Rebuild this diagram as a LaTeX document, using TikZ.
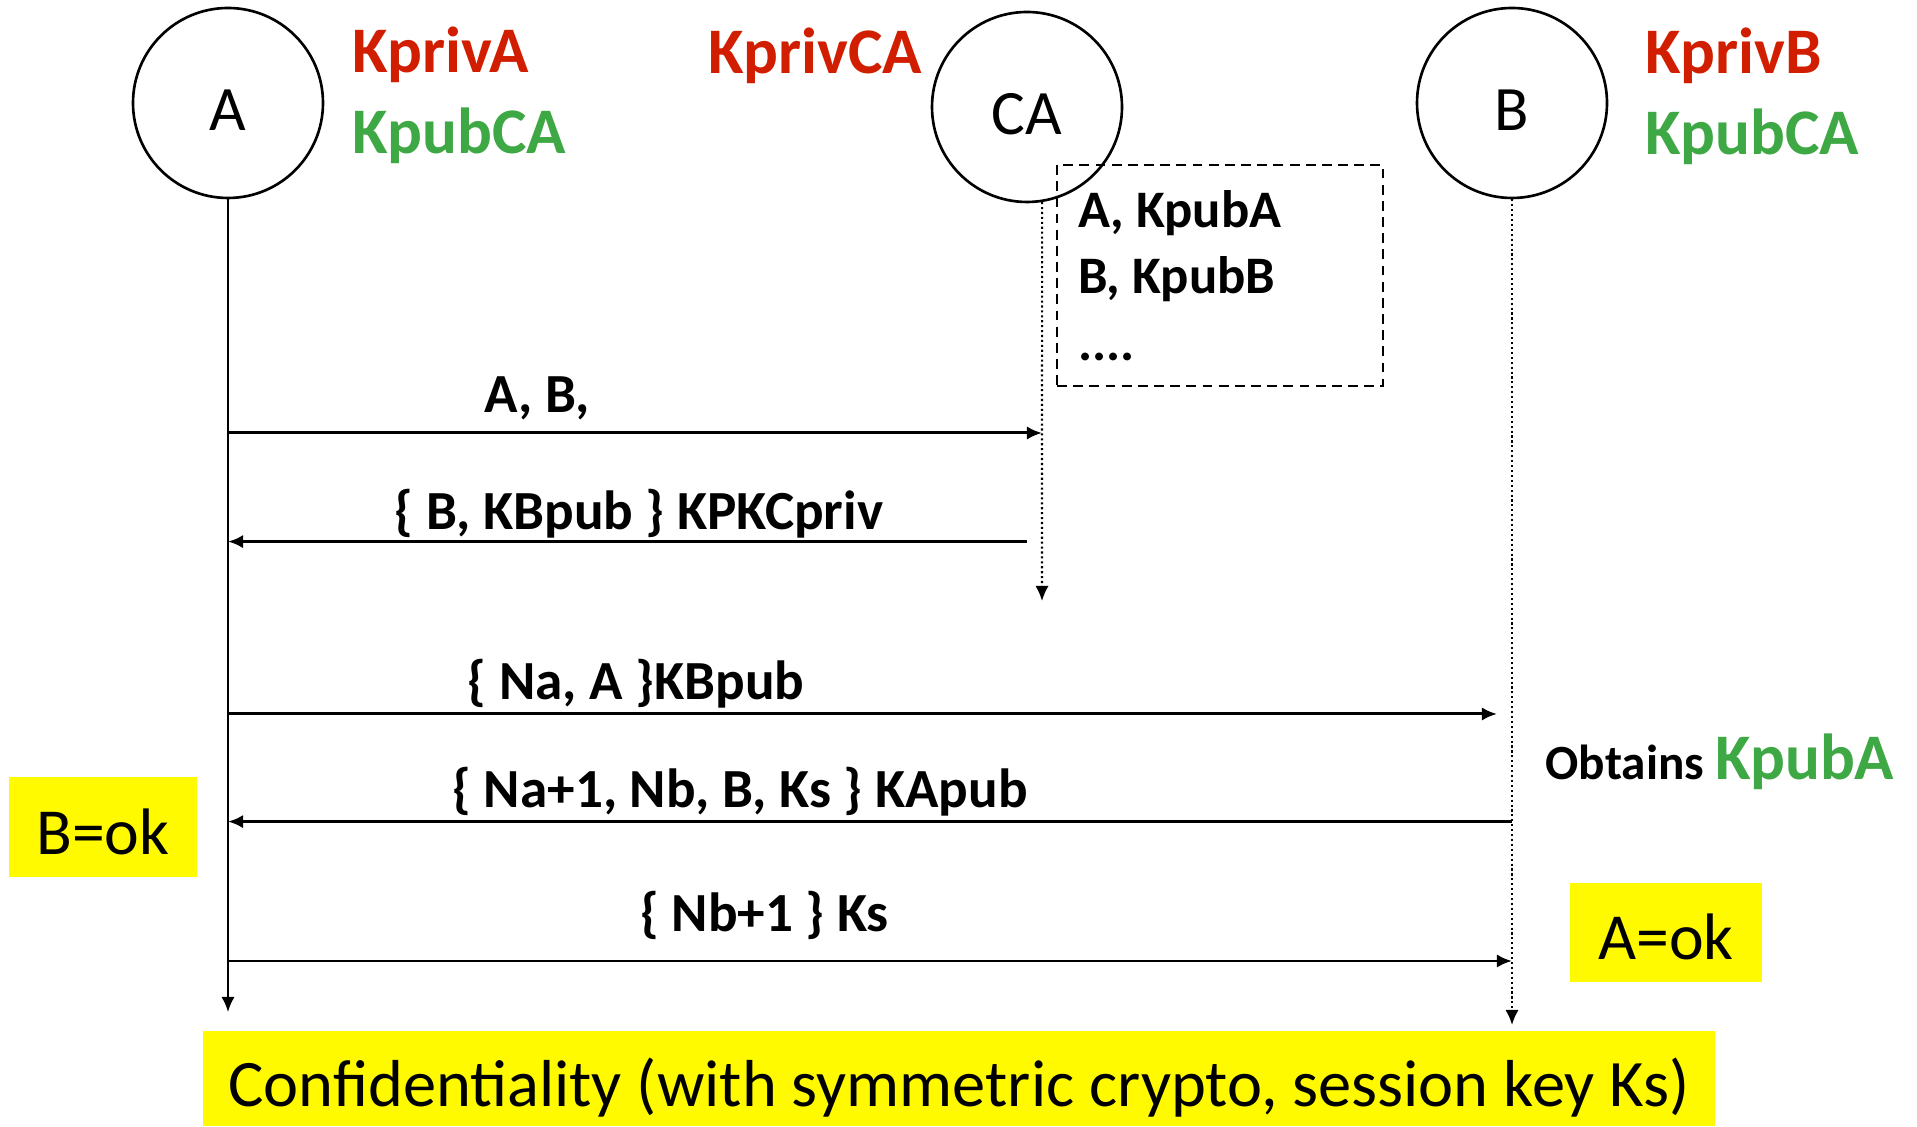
\documentclass[tikz,border=0pt]{standalone}
\usepackage{fontspec}
\setmainfont{Carlito}
\usetikzlibrary{positioning,arrows.meta}
\definecolor{kred}{RGB}{210,30,0}
\definecolor{kgreen}{RGB}{62,168,68}
\definecolor{okyellow}{RGB}{255,250,0}

\begin{document}
\begin{tikzpicture}[>={Latex[length=4.3pt,width=3.8pt]}]
  \useasboundingbox (0,0) rectangle (19.17,-11.27);
  \begin{scope}[node distance=0.81cm,
      actor/.style={circle, draw, line width=0.75pt, minimum size=1.9cm, inner sep=0pt, text height=0.56cm, text depth=0pt, font=\fontsize{18}{22}\selectfont},
      keyred/.style={anchor=base west, inner sep=0pt, text=kred, font=\fontsize{18.5}{22}\selectfont\bfseries},
      keygreen/.style={keyred, text=kgreen},
      dbox/.style={draw, dash pattern=on 2.8pt off 1.8pt, line width=0.75pt, minimum width=3.26cm, minimum height=2.21cm, text width=2.84cm, align=flush left, font=\fontsize{15}{19}\selectfont\bfseries},
      msglabel/.style={anchor=base, inner sep=0pt, font=\fontsize{15.7}{19}\selectfont\bfseries},
      msg/.style={->, line width=0.85pt},
      life/.style={->, line width=0.6pt},
      lifedot/.style={->, line width=0.6pt, dash pattern=on 0.6pt off 0.8pt},
      okbox/.style={fill=okyellow, inner sep=0pt, text height=0.55cm, text depth=0pt, font=\fontsize{18.7}{22}\selectfont}]
    % actors
    \node [actor] (A)  at (2.28,-1.03)  {A};
    \node [actor] (CA) at (10.27,-1.07) {CA};
    \node [actor] (B)  at (15.12,-1.03) {B};
    % keys
    \node [keyred] (kprivA) at (3.52,-0.73) {KprivA};
    \node [keygreen] (kpubA) [below=of kprivA.base west, anchor=base west] {KpubCA};
    \node [keyred] (kprivCA) at (7.08,-0.74) {KprivCA};
    \node [keyred] (kprivB) at (16.45,-0.74) {KprivB};
    \node [keygreen] (kpubB) [below=of kprivB.base west, anchor=base west] {KpubCA};
    \node [dbox] (ktable) at (12.2,-2.755) {A, KpubA\\B, KpubB\\....};
    % lifelines
    \coordinate (Aend) at (2.28,-10.12);
    \coordinate (CAtop) at (CA.-81);
    \coordinate (CAend) at (10.42,-6.01);
    \coordinate (Bend) at (15.12,-10.25);
    \draw [life] (A) -- (Aend);
    \draw [lifedot] (CAtop) -- (CAend);
    \draw [lifedot] (B) -- (Bend);
    % messages
    \coordinate (t1) at (0,-4.33);
    \coordinate (t2) at (0,-5.416);
    \coordinate (t3) at (0,-7.14);
    \coordinate (t4) at (0,-8.216);
    \coordinate (t5) at (0,-9.61);
    \draw [msg] (A |- t1) -- (CAtop |- t1);
    \draw [msg] (CA |- t2) -- (A |- t2);
    \draw [msg, shorten >=0.15cm] (A |- t3) -- (B |- t3);
    \draw [msg] (B |- t4) -- (A |- t4);
    \draw [msg] (A |- t5) -- (B |- t5);
    \node [msglabel] (l1) at (5.37,-4.13)  {A, B,};
    \node [msglabel] (l2) at (6.39,-5.30)  {\{ B, KBpub \} KPKCpriv};
    \node [msglabel] (l3) at (6.36,-7.00)  {\{ Na, A \}KBpub};
    \node [msglabel] (l4) at (7.40,-8.08)  {\{ Na+1, Nb, B, Ks \} KApub};
    \node [msglabel] (l5) at (7.645,-9.32) {\{ Nb+1 \} Ks};
    \node [anchor=base west, inner sep=0pt, font=\fontsize{14}{17}\selectfont\bfseries] (obt) at (15.45,-7.80) {Obtains {\color{kgreen}\fontsize{18.5}{22}\selectfont KpubA}};
    % results
    \node [okbox, minimum width=1.88cm, minimum height=1.0cm] (bok) at (1.03,-8.27) {B=ok};
    \node [okbox, minimum width=1.92cm, minimum height=0.99cm] (aok) at (16.66,-9.325) {A=ok\hspace{0.15cm}};
    \node [okbox, minimum width=15.12cm, minimum height=0.95cm, text height=0.56cm, font=\fontsize{18.9}{23}\selectfont] (conf) at (9.59,-10.785) {Confidentiality (with symmetric crypto, session key Ks)};
  \end{scope}
\end{tikzpicture}
\end{document}
